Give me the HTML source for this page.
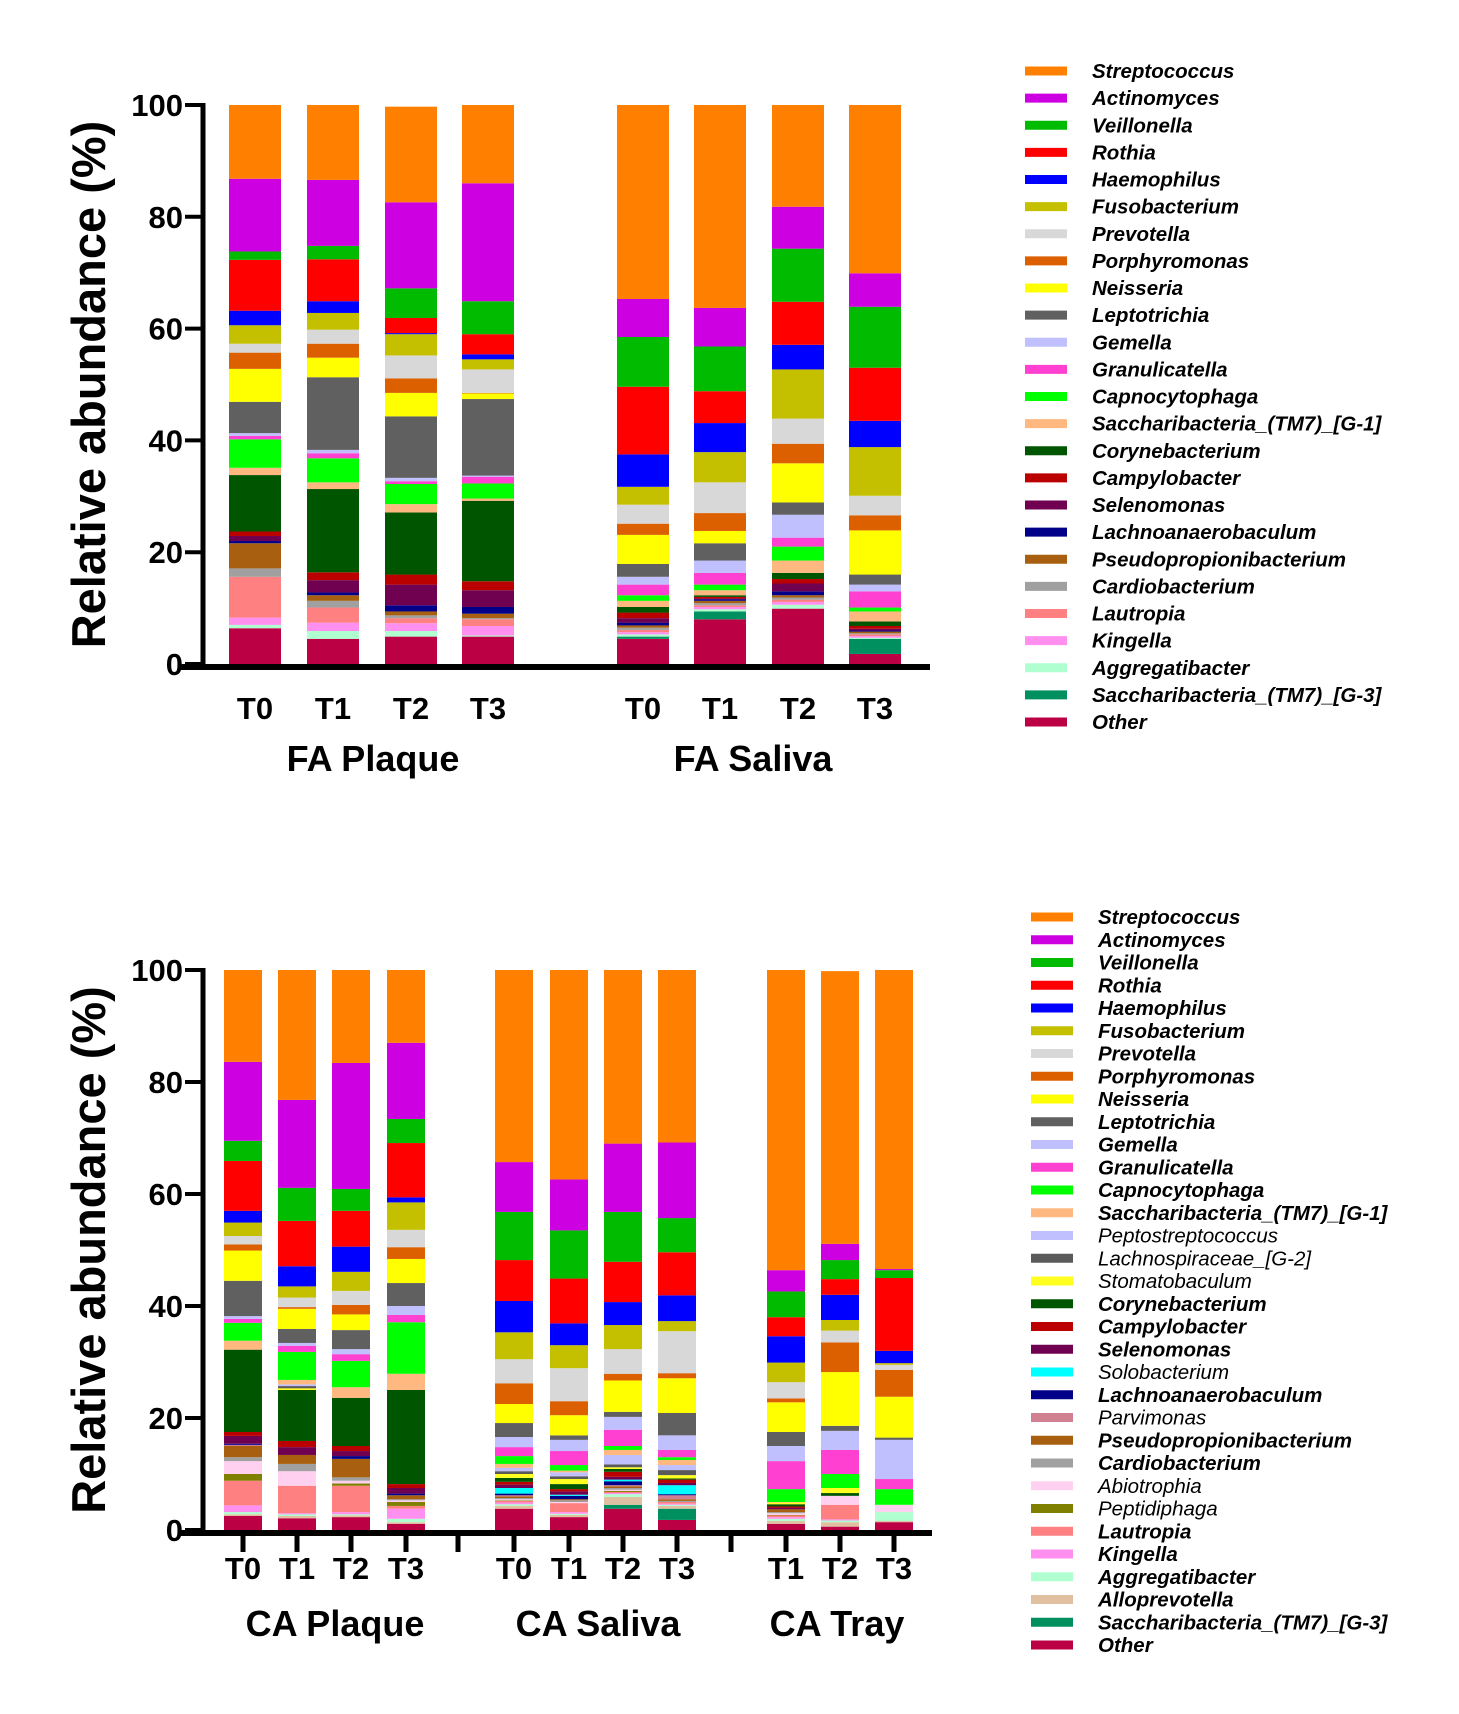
<!DOCTYPE html>
<html><head><meta charset="utf-8"><style>
html,body{margin:0;padding:0;background:#fff;}
svg{display:block;font-family:"Liberation Sans",sans-serif;}
</style></head><body>
<svg id="fig" width="1459" height="1714" viewBox="0 0 1459 1714" xmlns="http://www.w3.org/2000/svg"></svg>
<script>
// ---------- Top chart data (stack order bottom -> top) ----------
const topSeries = ["Other","Saccharibacteria_(TM7)_[G-3]","Aggregatibacter","Kingella","Lautropia","Cardiobacterium","Pseudopropionibacterium","Lachnoanaerobaculum","Selenomonas","Campylobacter","Corynebacterium","Saccharibacteria_(TM7)_[G-1]","Capnocytophaga","Granulicatella","Gemella","Leptotrichia","Neisseria","Porphyromonas","Prevotella","Fusobacterium","Haemophilus","Rothia","Veillonella","Actinomyces","Streptococcus"];
const topCategories = ["T0","T1","T2","T3","T0","T1","T2","T3"];
const topGroups = ["FA Plaque","FA Saliva"];
const faPlaqueT0 = [6.4,0,0.6,1.3,7.3,1.5,4.5,0.4,0.9,0.8,10.1,1.3,5.1,0.6,0.5,5.6,5.9,2.9,1.6,3.3,2.6,9.1,1.5,13.0,13.2];
const faPlaqueT1 = [4.5,0,1.4,1.5,2.7,1.2,1.0,0.5,2.2,1.4,14.9,1.2,4.3,0.9,0.6,13.0,3.5,2.5,2.5,3.0,2.1,7.5,2.4,11.8,13.4];
const faPlaqueT2 = [4.9,0,1.0,1.4,0.9,0.5,0.7,1.1,3.7,1.8,11.1,1.5,3.6,0.5,0.6,11.0,4.2,2.6,4.1,3.8,0.2,2.7,5.3,15.4,17.1];
const faPlaqueT3 = [4.9,0,0.2,1.7,1.2,0.2,0.8,1.2,3.0,1.6,14.4,0.4,2.7,1.2,0.2,13.7,1.0,0.1,4.2,1.8,0.9,3.6,5.9,21.1,14.0];
const faSalivaT0 = [4.5,0.4,0.4,0.4,0.4,0.4,0.4,0.5,0.8,1.0,1.0,1.1,1.0,1.9,1.4,2.3,5.2,2.0,3.4,3.2,5.8,12.1,8.9,6.8,34.7];
const faSalivaT1 = [8.0,1.4,0.4,0.4,0.3,0.4,0.4,0.3,0.1,0.3,0.3,0.9,1.0,2.1,2.2,3.1,2.2,3.2,5.5,5.4,5.2,5.7,8.0,6.9,36.3];
const faSalivaT2 = [9.9,0,0.7,0.5,0.4,0.4,0.4,0.7,1.4,0.8,1.1,2.2,2.5,1.6,4.1,2.2,7.0,3.5,4.5,8.8,4.4,7.7,9.5,7.5,18.2];
const faSalivaT3 = [1.8,2.7,0.2,0.3,0.3,0.2,0.3,0.2,0.3,0.5,0.8,1.8,0.7,2.9,1.2,1.8,7.9,2.7,3.5,8.7,4.7,9.5,10.9,6.0,30.1];
const topBars = [faPlaqueT0,faPlaqueT1,faPlaqueT2,faPlaqueT3,faSalivaT0,faSalivaT1,faSalivaT2,faSalivaT3];

// ---------- Bottom chart data (stack order bottom -> top) ----------
const botSeries = ["Other","Saccharibacteria_(TM7)_[G-3]","Alloprevotella","Aggregatibacter","Kingella","Lautropia","Peptidiphaga","Abiotrophia","Cardiobacterium","Pseudopropionibacterium","Parvimonas","Lachnoanaerobaculum","Solobacterium","Selenomonas","Campylobacter","Corynebacterium","Stomatobaculum","Lachnospiraceae_[G-2]","Peptostreptococcus","Saccharibacteria_(TM7)_[G-1]","Capnocytophaga","Granulicatella","Gemella","Leptotrichia","Neisseria","Porphyromonas","Prevotella","Fusobacterium","Haemophilus","Rothia","Veillonella","Actinomyces","Streptococcus"];
const botCategories = ["T0","T1","T2","T3","T0","T1","T2","T3","T1","T2","T3"];
const botGroups = ["CA Plaque","CA Saliva","CA Tray"];
const caPlaqueT0 = [2.5,0,0.3,0.4,1.2,4.4,1.2,2.3,0.7,2.0,0.2,0.2,0,1.4,0.7,14.7,0,0,0,1.6,3.2,0.7,0.5,6.3,5.4,1.1,1.5,2.4,2.1,8.9,3.6,14.1,16.4];
const caPlaqueT1 = [2.1,0,0.4,0.3,0.2,4.9,0,2.6,1.3,1.6,0,0,0,1.4,1.1,9.1,0.3,0.4,0.3,0.8,5.0,1.1,0.5,2.5,3.6,0.3,1.7,2.0,3.6,8.1,5.9,15.7,23.2];
const caPlaqueT2 = [2.3,0,0.3,0.2,0.4,4.7,0.4,0.5,0.6,3.3,0,0.5,0,0.9,0.9,8.6,0,0,0,1.9,4.7,1.2,0.9,3.4,2.8,1.7,2.5,3.4,4.5,6.4,3.9,22.5,16.6];
const caPlaqueT3 = [1.1,0,0.3,0.6,1.8,0.5,0.7,0.3,0.2,0.7,0,0.3,0,1.0,0.7,16.8,0,0,0,2.9,9.2,1.3,1.6,4.1,4.3,2.1,3.1,4.9,0.9,9.7,4.3,13.6,13.0];
const caSalivaT0 = [3.8,0,0.5,0.3,0.3,0.3,0.1,0.2,0.2,0.3,0.2,0.3,1.0,0.6,0.5,0.7,0.7,0.5,0.6,0.7,1.4,1.6,1.8,2.5,3.4,3.7,4.3,4.8,5.6,7.3,8.6,8.9,34.3];
const caSalivaT1 = [2.3,0,0.4,0.2,0.3,1.6,0,0.2,0.3,0.2,0,0.6,0.2,0.6,0.4,0.9,0.9,0.5,0.7,0.3,1.0,2.5,2.0,0.8,3.6,2.5,5.9,4.1,3.9,8.0,8.6,9.1,37.4];
const caSalivaT2 = [3.8,0.7,1.4,0.5,0.2,0.2,0.2,0.2,0.3,0.3,0.2,0.7,0.3,0.5,0.9,0.5,0.3,0.5,1.7,0.9,0.7,2.9,2.3,0.9,5.6,1.2,4.4,4.3,4.1,7.2,8.9,12.2,31.0];
const caSalivaT3 = [1.8,2.0,0.5,0.2,0.2,0.3,0,0,0.2,0.3,0.7,0.2,1.6,0.4,0.6,0.2,0.6,0.9,0.9,0.9,0.5,1.3,2.6,4.0,6.2,0.9,7.5,1.8,4.6,7.7,6.1,13.5,30.8];
const caTrayT1 = [1.1,0,0.5,0.4,0.3,0.3,0.1,0.3,0.2,0.5,0,0,0,0.3,0.2,0.4,0.3,0,0,0.1,2.3,5.0,2.7,2.5,5.3,0.7,2.9,3.5,4.7,3.4,4.6,3.8,53.6];
const caTrayT2 = [0.6,0,0.8,0.3,0.2,2.6,0,1.6,0,0,0,0,0,0,0,0.5,0.9,0,0,0,2.5,4.3,3.4,0.9,9.6,5.3,2.1,1.9,4.5,2.8,3.4,2.9,48.7];
const caTrayT3 = [1.4,0,0.2,1.6,0,0,0,1.3,0,0,0,0,0,0,0,0,0,0,0,0,2.8,1.8,7.0,0.4,7.3,4.8,0.9,0.3,2.2,13.0,1.4,0.2,53.4];
const botBars = [caPlaqueT0,caPlaqueT1,caPlaqueT2,caPlaqueT3,caSalivaT0,caSalivaT1,caSalivaT2,caSalivaT3,caTrayT1,caTrayT2,caTrayT3];
const yTicks = [0,20,40,60,80,100];

const colors = {
 "Streptococcus":"#ff8000","Actinomyces":"#cc00e0","Veillonella":"#00bb00","Rothia":"#ff0000","Haemophilus":"#0000ff",
 "Fusobacterium":"#c4c000","Prevotella":"#d8d8d8","Porphyromonas":"#dd6000","Neisseria":"#ffff00","Leptotrichia":"#606060",
 "Gemella":"#c0c0ff","Granulicatella":"#ff40d0","Capnocytophaga":"#00ff00","Saccharibacteria_(TM7)_[G-1]":"#ffb880",
 "Corynebacterium":"#005500","Campylobacter":"#bb0000","Selenomonas":"#700050","Lachnoanaerobaculum":"#000088",
 "Pseudopropionibacterium":"#a86010","Cardiobacterium":"#a0a0a0","Lautropia":"#ff8080","Kingella":"#ff90f0",
 "Aggregatibacter":"#b0ffd0","Saccharibacteria_(TM7)_[G-3]":"#009060","Other":"#bb0044",
 "Peptostreptococcus":"#c0c0ff","Lachnospiraceae_[G-2]":"#5a5a5a","Stomatobaculum":"#ffff20","Solobacterium":"#00ffff",
 "Parvimonas":"#d08090","Abiotrophia":"#ffd0f0","Peptidiphaga":"#808000","Alloprevotella":"#e0c0a0"
};
const plainNames = ["Peptostreptococcus","Lachnospiraceae_[G-2]","Stomatobaculum","Solobacterium","Parvimonas","Abiotrophia","Peptidiphaga"];

const NS = "http://www.w3.org/2000/svg";
const svg = document.getElementById("fig");
function mk(tag, attrs, parent, text){
  const e = document.createElementNS(NS, tag);
  for (const k in attrs) e.setAttribute(k, attrs[k]);
  if (text !== undefined) e.textContent = text;
  (parent||svg).appendChild(e);
  return e;
}
function slug(s){return s.toLowerCase().replace(/[^a-z0-9]+/g,'-').replace(/^-|-$/g,'');}

function drawChart(cfg){
  const g = mk("g", {});
  
  
  const y = v => cfg.y0 - (v/100)*(cfg.y0 - cfg.y100);
  cfg.bars.forEach((vals, i) => {
    let cum = 0;
    const cx = cfg.centers[i];
    vals.forEach((v, s) => {
      if (v <= 0) { return; }
      const r = mk("rect", {x: cx - cfg.bw/2, y: y(cum+v), width: cfg.bw, height: y(cum) - y(cum+v), fill: colors[cfg.series[s]]}, g);
      
      
      cum += v;
    });
  });
  const ya = mk("line", {x1: cfg.ax, y1: cfg.y100-2, x2: cfg.ax, y2: cfg.y0+3, stroke:"#000","stroke-width":5}, g);
  
  
  const xa = mk("line", {x1: cfg.ax-22, y1: cfg.y0+3, x2: cfg.axEnd, y2: cfg.y0+3, stroke:"#000","stroke-width":6}, g);
  
  
  yTicks.forEach(t => {
    const tk = mk("line", {x1: cfg.ax-18, y1: y(t), x2: cfg.ax, y2: y(t), stroke:"#000","stroke-width":4}, g);
    
    
    const tl = mk("text", {x: cfg.ax-20, y: y(t)+11, "text-anchor":"end","font-size":31,"font-weight":"bold"}, g, String(t));
    
    
  });
  if (cfg.xTicks){
    cfg.centers.concat(cfg.gapTicks).forEach((x) => {
      const t = mk("line", {x1:x, y1:cfg.y0+3, x2:x, y2:cfg.y0+22, stroke:"#000","stroke-width":5}, g);
      
      
    });
  }
  cfg.cats.forEach((c, i) => {
    const t = mk("text", {x: cfg.centers[i], y: cfg.catY, "text-anchor":"middle","font-size":31,"font-weight":"bold"}, g, c);
    
    
  });
  cfg.groups.forEach((gr, k) => {
    const t = mk("text", {x: cfg.groupX[k], y: cfg.groupY, "text-anchor":"middle","font-size":36,"font-weight":"bold"}, g, gr);
    
    
  });
  const yc = (cfg.y0 + cfg.y100)/2;
  const yt = mk("text", {x: 0, y: 0, transform: "translate(" + (cfg.ax-98) + "," + yc + ") rotate(-90)", "text-anchor":"middle","font-size":47,"font-weight":"bold"}, g, "Relative abundance (%)");
  
  
  const lg = mk("g", {}, g);
  
  
  cfg.legend.forEach((name, k) => {
    const ly = cfg.legendY[0] + (cfg.legendY[1]-cfg.legendY[0]) * k / (cfg.legend.length-1);
    const e = mk("g", {}, lg);
    
    
    mk("rect", {x: cfg.legendX, y: ly-4.5, width: 42, height: 9, fill: colors[name]}, e);
    const plain = plainNames.indexOf(name) >= 0;
    mk("text", {x: cfg.legendX+67, y: ly+7, "font-size":20.5, "font-style":"italic", "font-weight": plain ? "normal":"bold"}, e, name);
  });
}

drawChart({
  name:"fa-chart", bars: topBars, series: topSeries, cats: topCategories,
  groupOf:["FA Plaque","FA Plaque","FA Plaque","FA Plaque","FA Saliva","FA Saliva","FA Saliva","FA Saliva"],
  groups: topGroups, groupX:[373,753], groupY:771,
  centers:[255,333,411,488,643,720,798,875], bw:52,
  y0:664, y100:105, ax:203, axEnd:930, catY:719, xTicks:false,
  legend: topSeries.slice().reverse(), legendX:1025, legendY:[71,722]
});
drawChart({
  name:"ca-chart", bars: botBars, series: botSeries, cats: botCategories,
  groupOf:["CA Plaque","CA Plaque","CA Plaque","CA Plaque","CA Saliva","CA Saliva","CA Saliva","CA Saliva","CA Tray","CA Tray","CA Tray"],
  groups: botGroups, groupX:[335,598,837], groupY:1636,
  centers:[243,297,351,406,514,569,623,677,786,840,894], gapTicks:[458,731], bw:38,
  y0:1530, y100:970, ax:203, axEnd:932, catY:1579, xTicks:true,
  legend: botSeries.slice().reverse(), legendX:1031, legendY:[917,1645]
});
</script>
</body></html>
